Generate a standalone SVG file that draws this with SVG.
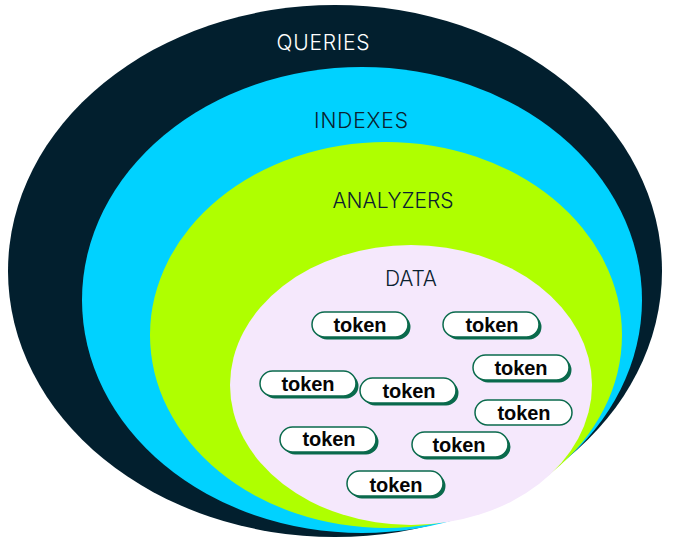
<svg xmlns="http://www.w3.org/2000/svg" width="673" height="537" viewBox="0 0 673 537">
  <style>
    .label { font-family: "Inter", "Open Sans", sans-serif; font-size: 21px; font-weight: 300; text-anchor: middle; }
    .dark-label { fill: #0b2230; }
    .pill { fill: #ffffff; stroke: #0a6a4c; stroke-width: 1.5; }
    .pill-shadow { fill: #0a6a4c; }
    .tok { font-family: "Liberation Sans", Arial, sans-serif; font-size: 20px; font-weight: 700; fill: #050505; text-anchor: middle; }
  </style>
  <defs>
    <!-- one token pill: raised right/bottom edge plus white face -->
    <g id="pill-shape">
      <rect class="pill-shadow" x="2.5" y="2.5" width="96" height="25" rx="12.5"/>
      <rect class="pill" x="0" y="0" width="96" height="25" rx="12.5"/>
    </g>
  </defs>

  <rect width="673" height="537" fill="#ffffff"/>

  <!-- nested layers, outermost first -->
  <g id="queries">
    <ellipse cx="335" cy="271" rx="327" ry="266" fill="#021f2e"/>
    <text class="label" x="323" y="50" fill="#ffffff" textLength="93">QUERIES</text>
  </g>
  <g id="indexes">
    <ellipse cx="362" cy="300" rx="280" ry="233" fill="#00d2ff"/>
    <text class="label dark-label" x="361" y="128" textLength="94">INDEXES</text>
  </g>
  <g id="analyzers">
    <ellipse cx="386" cy="335" rx="236" ry="193" fill="#afff00"/>
    <text class="label dark-label" x="393" y="208" textLength="121">ANALYZERS</text>
  </g>
  <g id="data">
    <ellipse cx="411" cy="385" rx="181" ry="140" fill="#f5e8fc"/>
    <text class="label dark-label" x="411" y="286" textLength="52">DATA</text>
  </g>

  <!-- tokens inside the data layer -->
  <g id="token-1">
    <use href="#pill-shape" x="312" y="312"/>
    <text class="tok" x="360" y="332" textLength="53">token</text>
  </g>
  <g id="token-2">
    <use href="#pill-shape" x="443" y="312"/>
    <text class="tok" x="492" y="332" textLength="53">token</text>
  </g>
  <g id="token-3">
    <use href="#pill-shape" x="473" y="355"/>
    <text class="tok" x="521" y="375" textLength="53">token</text>
  </g>
  <g id="token-4">
    <use href="#pill-shape" x="260" y="371"/>
    <text class="tok" x="308" y="391" textLength="53">token</text>
  </g>
  <g id="token-5">
    <use href="#pill-shape" x="360" y="378"/>
    <text class="tok" x="409" y="398" textLength="53">token</text>
  </g>
  <g id="token-6">
    <rect class="pill" x="475" y="400" width="97" height="25" rx="12.5"/>
    <text class="tok" x="524" y="420" textLength="53">token</text>
  </g>
  <g id="token-7">
    <use href="#pill-shape" x="280" y="427"/>
    <text class="tok" x="329" y="446" textLength="53">token</text>
  </g>
  <g id="token-8">
    <use href="#pill-shape" x="412" y="432"/>
    <text class="tok" x="459" y="452" textLength="53">token</text>
  </g>
  <g id="token-9">
    <use href="#pill-shape" x="347" y="471"/>
    <text class="tok" x="396" y="492" textLength="53">token</text>
  </g>
</svg>
